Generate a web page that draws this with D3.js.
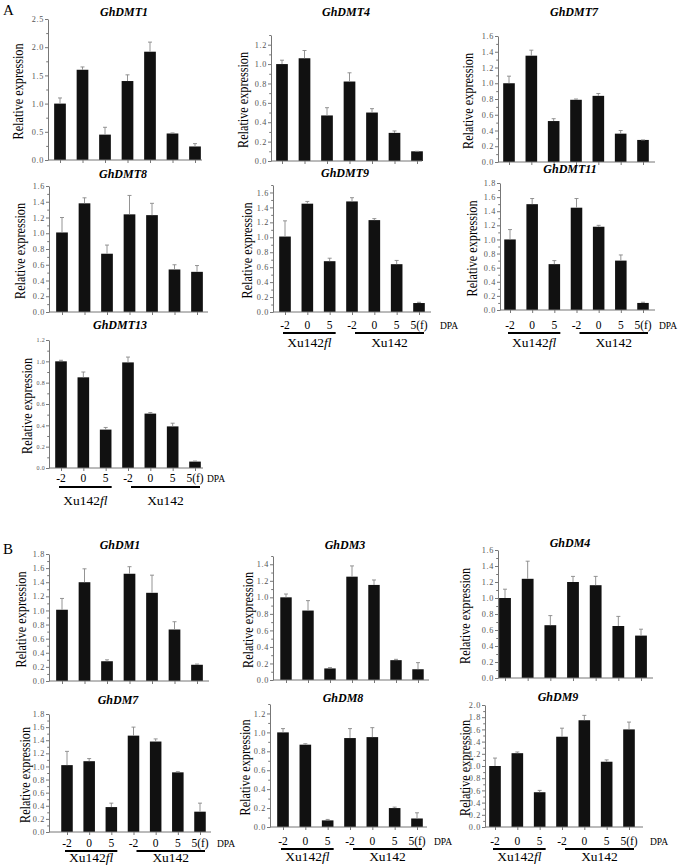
<!DOCTYPE html>
<html>
<head>
<meta charset="utf-8">
<script src="https://cdn.jsdelivr.net/npm/d3@7"></script>
<style>
body { margin: 0; background: #fff; }
svg text { font-family: "Liberation Serif", "Times New Roman", serif; }
</style>
</head>
<body>
<svg id="fig" width="685" height="865"></svg>
<script>
//////////////////////////////
// DATA
//////////////////////////////

const categories = ["-2", "0", "5", "-2", "0", "5", "5(f)"]
const groups = ["Xu142fl", "Xu142"]

const dmt1Mean = [1.00, 1.60, 0.45, 1.40, 1.92, 0.47, 0.24]
const dmt1Err = [0.10, 0.05, 0.13, 0.11, 0.17, 0.01, 0.05]
const dmt4Mean = [1.00, 1.06, 0.47, 0.82, 0.50, 0.29, 0.10]
const dmt4Err = [0.04, 0.08, 0.08, 0.09, 0.04, 0.02, 0.00]
const dmt7Mean = [1.00, 1.35, 0.52, 0.79, 0.84, 0.36, 0.28]
const dmt7Err = [0.09, 0.07, 0.03, 0.01, 0.03, 0.04, 0.00]
const dmt8Mean = [1.01, 1.38, 0.74, 1.24, 1.23, 0.54, 0.51]
const dmt8Err = [0.19, 0.07, 0.11, 0.24, 0.15, 0.06, 0.08]
const dmt9Mean = [1.01, 1.45, 0.68, 1.48, 1.23, 0.64, 0.12]
const dmt9Err = [0.21, 0.03, 0.04, 0.05, 0.02, 0.05, 0.01]
const dmt11Mean = [1.00, 1.50, 0.65, 1.45, 1.18, 0.70, 0.10]
const dmt11Err = [0.14, 0.08, 0.05, 0.13, 0.02, 0.08, 0.01]
const dmt13Mean = [1.00, 0.85, 0.36, 0.99, 0.51, 0.39, 0.06]
const dmt13Err = [0.01, 0.05, 0.02, 0.05, 0.01, 0.03, 0.005]

const dm1Mean = [1.01, 1.40, 0.28, 1.52, 1.25, 0.73, 0.23]
const dm1Err = [0.16, 0.19, 0.02, 0.10, 0.25, 0.11, 0.01]
const dm3Mean = [1.00, 0.84, 0.14, 1.25, 1.15, 0.24, 0.13]
const dm3Err = [0.04, 0.12, 0.01, 0.13, 0.06, 0.01, 0.08]
const dm4Mean = [1.00, 1.24, 0.66, 1.20, 1.16, 0.65, 0.53]
const dm4Err = [0.11, 0.22, 0.12, 0.07, 0.11, 0.12, 0.08]
const dm7Mean = [1.02, 1.08, 0.38, 1.47, 1.38, 0.91, 0.31]
const dm7Err = [0.21, 0.04, 0.06, 0.13, 0.04, 0.01, 0.13]
const dm8Mean = [1.00, 0.87, 0.07, 0.94, 0.95, 0.20, 0.09]
const dm8Err = [0.04, 0.01, 0.01, 0.10, 0.10, 0.01, 0.06]
const dm9Mean = [1.00, 1.21, 0.57, 1.48, 1.75, 1.07, 1.60]
const dm9Err = [0.13, 0.02, 0.03, 0.14, 0.08, 0.03, 0.12]

//////////////////////////////
// LAYOUT
//////////////////////////////

const panels = [
	{ title: "GhDMT1", mean: dmt1Mean, err: dmt1Err, yMax: 2.5, step: 0.5, axisX: 48, c0: 60, c6: 195, end: 202, top: 19, bottom: 160, tx: 124, ty: 16, lx: 18 },
	{ title: "GhDMT4", mean: dmt4Mean, err: dmt4Err, yMax: 1.3, step: 0.2, axisX: 271, c0: 282, c6: 417, end: 422, top: 35, bottom: 161, tx: 346, ty: 16, lx: 243 },
	{ title: "GhDMT7", mean: dmt7Mean, err: dmt7Err, yMax: 1.6, step: 0.2, axisX: 498, c0: 509, c6: 643, end: 655, top: 36, bottom: 162, tx: 574, ty: 16, lx: 468 },
	{ title: "GhDMT8", mean: dmt8Mean, err: dmt8Err, yMax: 1.6, step: 0.2, axisX: 49, c0: 62, c6: 197, end: 208, top: 186, bottom: 312, tx: 123, ty: 178, lx: 20 },
	{ title: "GhDMT9", mean: dmt9Mean, err: dmt9Err, yMax: 1.7, step: 0.2, axisX: 273, c0: 285, c6: 419, end: 431, top: 185, bottom: 312, tx: 345, ty: 177, lx: 247,
		xlab: { tickY: 329, lineY: 333, groupY: 347, dpaX: 440 } },
	{ title: "GhDMT11", mean: dmt11Mean, err: dmt11Err, yMax: 1.8, step: 0.2, axisX: 500, c0: 510, c6: 643, end: 655, top: 183, bottom: 310, tx: 570, ty: 173, lx: 472,
		xlab: { tickY: 329, lineY: 333, groupY: 347, dpaX: 659 } },
	{ title: "GhDMT13", mean: dmt13Mean, err: dmt13Err, yMax: 1.2, step: 0.2, axisX: 49, c0: 61, c6: 195, end: 203, top: 340, bottom: 468, tx: 120, ty: 329, lx: 27, small: true,
		xlab: { tickY: 482, lineY: 487, groupY: 505, dpaX: 207 } },
	{ title: "GhDM1", mean: dm1Mean, err: dm1Err, yMax: 1.8, step: 0.2, axisX: 49, c0: 62, c6: 197, end: 209, top: 554, bottom: 681, tx: 120, ty: 549, lx: 21 },
	{ title: "GhDM3", mean: dm3Mean, err: dm3Err, yMax: 1.5, step: 0.2, axisX: 273, c0: 286, c6: 418, end: 429, top: 556, bottom: 680, tx: 345, ty: 549, lx: 248 },
	{ title: "GhDM4", mean: dm4Mean, err: dm4Err, yMax: 1.6, step: 0.2, axisX: 498, c0: 505, c6: 641, end: 653, top: 550, bottom: 678, tx: 570, ty: 547, lx: 465 },
	{ title: "GhDM7", mean: dm7Mean, err: dm7Err, yMax: 1.8, step: 0.2, axisX: 49, c0: 67, c6: 200, end: 211, top: 714, bottom: 832, tx: 118, ty: 704, lx: 25,
		xlab: { tickY: 847, lineY: 851, groupY: 862, dpaX: 217 } },
	{ title: "GhDM8", mean: dm8Mean, err: dm8Err, yMax: 1.3, step: 0.2, axisX: 270, c0: 283, c6: 417, end: 427, top: 704, bottom: 827, tx: 343, ty: 702, lx: 245,
		xlab: { tickY: 845, lineY: 849, groupY: 861, dpaX: 434 } },
	{ title: "GhDM9", mean: dm9Mean, err: dm9Err, yMax: 2.0, step: 0.2, axisX: 485, c0: 495, c6: 629, end: 643, top: 705, bottom: 827, tx: 558, ty: 701, lx: 465,
		xlab: { tickY: 845, lineY: 849, groupY: 861, dpaX: 650 } }
]

//////////////////////////////
// DRAW
//////////////////////////////

const svg = d3.select("#fig")
const serif = "Liberation Serif, Times New Roman, serif"
const axisColor = "#777"

const drawPanel = (p) => {
	let x = d3.scalePoint().domain(d3.range(categories.length)).range([p.c0, p.c6])
	let y = d3.scaleLinear().domain([0, p.yMax]).range([p.bottom, p.top])
	let bw = x.step() * 0.52
	let g = svg.append("g").attr("font-family", serif)

	// bars
	g.selectAll("rect.bar").data(p.mean).enter().append("rect")
		.attr("class", "bar")
		.attr("x", (d, i) => x(i) - bw / 2)
		.attr("y", (d) => y(d))
		.attr("width", bw)
		.attr("height", (d) => y(0) - y(d))
		.style("fill", "#111")

	// error bars (upper half only)
	let eb = g.selectAll("g.err").data(p.mean).enter().append("g").attr("class", "err")
	eb.append("line")
		.attr("x1", (d, i) => x(i)).attr("x2", (d, i) => x(i))
		.attr("y1", (d) => y(d)).attr("y2", (d, i) => y(d + p.err[i]))
		.style("stroke", "#888").style("stroke-width", 0.9)
	eb.append("line")
		.attr("x1", (d, i) => x(i) - 2).attr("x2", (d, i) => x(i) + 2)
		.attr("y1", (d, i) => y(d + p.err[i])).attr("y2", (d, i) => y(d + p.err[i]))
		.style("stroke", "#888").style("stroke-width", 0.9)

	// y axis
	let major = d3.range(0, p.yMax + 1e-9, p.step)
	let minor = d3.range(p.step / 2, p.yMax + 1e-9, p.step)
	let ya = g.append("g").attr("transform", "translate(" + p.axisX + ",0)")
		.call(d3.axisLeft(y).tickValues(major).tickSize(3).tickSizeOuter(0).tickFormat((d) => d.toFixed(1)))
	ya.attr("font-family", serif)
	ya.select(".domain").style("stroke", axisColor)
	ya.selectAll(".tick line").style("stroke", axisColor)
	ya.selectAll(".tick text")
		.style("fill", "#555")
		.style("font-size", p.small ? "6px" : "8.2px")
		.style("letter-spacing", p.small ? "0.3px" : "0.7px")
		.attr("x", -4)

	let ym = g.append("g").attr("transform", "translate(" + p.axisX + ",0)")
		.call(d3.axisLeft(y).tickValues(minor).tickSize(1.8).tickFormat(""))
	ym.select(".domain").remove()
	ym.selectAll(".tick line").style("stroke", axisColor)

	// x axis
	g.append("line")
		.attr("x1", p.axisX).attr("x2", p.end)
		.attr("y1", p.bottom).attr("y2", p.bottom)
		.style("stroke", axisColor).style("stroke-width", 1)
	let xa = g.append("g").attr("transform", "translate(0," + p.bottom + ")")
		.call(d3.axisBottom(x).tickSize(3).tickFormat(""))
	xa.select(".domain").remove()
	xa.selectAll(".tick line").style("stroke", axisColor)

	// title
	g.append("text")
		.attr("x", p.tx).attr("y", p.ty)
		.attr("text-anchor", "middle")
		.style("font-size", "12px")
		.style("font-weight", "bold")
		.style("font-style", "italic")
		.text(p.title)

	// y label
	let my = (p.top + p.bottom) / 2 + 2
	g.append("text")
		.attr("transform", "translate(" + p.lx + "," + my + ") rotate(-90)")
		.attr("text-anchor", "middle")
		.attr("dy", "0.35em")
		.attr("textLength", 96)
		.attr("lengthAdjust", "spacingAndGlyphs")
		.style("font-size", "15px")
		.text("Relative expression")

	// category labels
	if (p.xlab) {
		let L = p.xlab
		g.selectAll("text.cat").data(categories).enter().append("text")
			.attr("class", "cat")
			.attr("x", (d, i) => x(i))
			.attr("y", L.tickY)
			.attr("text-anchor", "middle")
			.style("font-size", "11.5px")
			.text((d) => d)
		g.append("text")
			.attr("x", L.dpaX).attr("y", L.tickY)
			.style("font-size", "9.5px")
			.text("DPA")

		let spans = [[x(0) - 2, x(2) + 6], [x(3) + 3, x(6) + 5]]
		g.selectAll("line.grp").data(spans).enter().append("line")
			.attr("class", "grp")
			.attr("x1", (d) => d[0]).attr("x2", (d) => d[1])
			.attr("y1", L.lineY).attr("y2", L.lineY)
			.style("stroke", "#000").style("stroke-width", 2)

		let gl = g.selectAll("text.grp").data(groups).enter().append("text")
			.attr("class", "grp")
			.attr("x", (d, i) => (spans[i][0] + spans[i][1]) / 2)
			.attr("y", L.groupY)
			.attr("text-anchor", "middle")
			.style("font-size", "13.5px")
		gl.filter((d, i) => i === 0).each(function (d) {
			d3.select(this).append("tspan").text(d.slice(0, 5))
			d3.select(this).append("tspan").style("font-style", "italic").text(d.slice(5))
		})
		gl.filter((d, i) => i === 1).text((d) => d)
	}
}

panels.forEach(drawPanel)

svg.append("text").attr("x", 3).attr("y", 15).attr("font-family", serif).style("font-size", "15px").text("A")
svg.append("text").attr("x", 3).attr("y", 554).attr("font-family", serif).style("font-size", "15px").text("B")
</script>
</body>
</html>
